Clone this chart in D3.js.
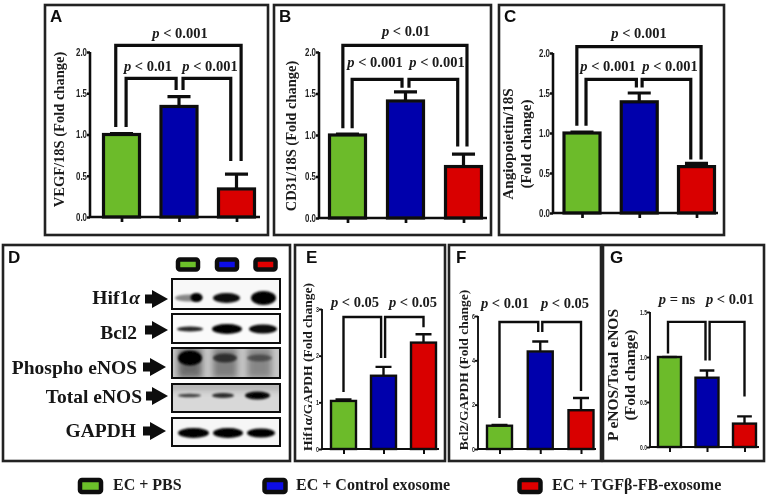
<!DOCTYPE html>
<html><head><meta charset="utf-8">
<script src="https://cdn.jsdelivr.net/npm/d3@7"></script>
<style>
html,body{margin:0;padding:0;background:#fff}
svg{display:block}
</style></head><body>
<svg id="c" width="767" height="499"></svg>
<script>
// ---- data ----
const categories = ["EC + PBS","EC + Control exosome","EC + TGFβ-FB-exosome"];
const valuesA = [1.00,1.34,0.34], errorsA = [1.01,1.46,0.52];
const valuesB = [1.00,1.41,0.62], errorsB = [1.01,1.52,0.77];
const valuesC = [1.00,1.39,0.58], errorsC = [1.01,1.50,0.62];
const valuesE = [1.03,1.57,2.28], errorsE = [1.06,1.76,2.46];
const valuesF = [1.05,4.40,1.75], errorsF = [1.08,4.85,2.30];
const valuesG = [1.00,0.77,0.26], errorsG = [1.00,0.85,0.34];
const ticksAC = ["0.0","0.5","1.0","1.5","2.0"];
const ticksE = ["0","1","2","3"];
const ticksF = ["0","2","4","6"];
const ticksG = ["0.0","0.5","1.0","1.5"];
const blotNames = ["Hif1","Bcl2","Phospho eNOS","Total eNOS","GAPDH"];
const blotIntensity = [[0.45,0.95,1],[0.85,1,0.97],[1,0.62,0.42],[0.7,0.8,0.97],[1,1,1]];
const blotWidth = [[27,27,25],[26,30,28],[24,24,25],[23,22,25],[31,30,28]];
const blotHeight = [[7,10,14],[5,10,9],[15,9,7],[3.5,5,8],[10,10,9]];
// bracket geometry in chart units: [xStartIndex, xEndIndex, topValue, leftFootValue, rightFootValue]
const bracketsA = [[-0.10,2.08,2.08,1.09,0.68],[0.08,0.95,1.68,1.09,1.54],[1.07,1.90,1.68,1.54,0.68]];
const bracketsB = [[-0.08,2.06,2.08,1.08,0.86],[0.08,0.94,1.67,1.08,1.57],[1.06,1.90,1.67,1.57,0.86]];
const bracketsC = [[-0.09,2.08,2.08,1.09,0.67],[0.07,0.95,1.67,1.09,1.57],[1.05,1.90,1.67,1.57,0.67]];
const bracketsE = [[0,0.94,2.83,1.22,1.95],[1.04,2,2.83,1.95,2.61]];
const bracketsF = [[0,0.95,5.73,1.40,5.28],[1.05,2,5.73,5.28,2.62]];
const bracketsG = [[-0.04,0.96,1.39,1.04,0.96],[1.07,2,1.39,0.96,0.56]];
const pLabelsA = ["p < 0.001","p < 0.01","p < 0.001"];
const pLabelsB = ["p < 0.01","p < 0.001","p < 0.001"];
const pLabelsC = ["p < 0.001","p < 0.001","p < 0.001"];
const pLabelsE = ["p < 0.05","p < 0.05"];
const pLabelsF = ["p < 0.01","p < 0.05"];
const pLabelsG = ["p = ns","p < 0.01"];

// ---- layout ----
const barFill = ["#6cbb2c","#0000ac","#d90000"];
const brightFill = ["#6cc02c","#1010e6","#e00000"];
const serif = "'Liberation Serif','DejaVu Serif',serif";
const sans = "'Liberation Sans',Arial,sans-serif";
const ink = "#111";

const svg = d3.select("#c");
const defs = svg.append("defs");
defs.append("filter").attr("id","soft").attr("x","-5%").attr("y","-5%").attr("width","110%").attr("height","110%")
  .append("feGaussianBlur").attr("stdDeviation",0.35);
[[1.3,"b1"],[3,"b2"]].forEach(([s,id])=>{
  defs.append("filter").attr("id",id).attr("x","-40%").attr("y","-80%").attr("width","180%").attr("height","260%")
    .append("feGaussianBlur").attr("stdDeviation",s);
});
const root = svg.append("g").attr("filter","url(#soft)");

const panels = [
 {letter:"A",box:[45,5,268,235],lx:50,ly:22,ax:90,axEnd:260,y0:217,yT:52,max:2,cx:[121.5,236.5],bw:36,ticks:ticksAC,v:valuesA,e:errorsA,br:bracketsA,
  p:pLabelsA,pp:[[180,38],[148,71],[210,71]],title:["VEGF/18S (Fold change)"],tx:[64],ty:129.5,fs:14.5,ps:14.5,lw:3.2,tf:10.5,tw:11},
 {letter:"B",box:[274,5,491,235],lx:279,ly:22,ax:319,axEnd:487,y0:218,yT:52,max:2,cx:[347.5,463.5],bw:36,ticks:ticksAC,v:valuesB,e:errorsB,br:bracketsB,
  p:pLabelsB,pp:[[406,36],[375,67],[437,67]],title:["CD31/18S (Fold change)"],tx:[296],ty:136,fs:14.5,ps:14.5,lw:3.2,tf:10.5,tw:11},
 {letter:"C",box:[499,5,724,235],lx:504,ly:22,ax:553,axEnd:718,y0:213,yT:53,max:2,cx:[582,696.5],bw:36,ticks:ticksAC,v:valuesC,e:errorsC,br:bracketsC,
  p:pLabelsC,pp:[[639,38],[608,71],[670,71]],title:["Angiopoietin/18S","(Fold change)"],tx:[513,531],ty:144,fs:15.2,ps:14.5,lw:3.2,tf:10.5,tw:11},
 {letter:"E",box:[295,245,445,461],lx:306,ly:263,ax:322,axEnd:439,y0:449,yT:309,max:3,cx:[343.5,423.5],bw:25,ticks:ticksE,v:valuesE,e:errorsE,br:bracketsE,
  p:pLabelsE,pp:[[355,307],[413,307]],title:["Hif1α/GAPDH (Fold change)"],tx:[312],ty:367,fs:13.5,ps:14.5,lw:2.4,tf:7,tw:3},
 {letter:"F",box:[449,245,601,461],lx:456,ly:263,ax:478,axEnd:596,y0:449,yT:316,max:6,cx:[499.5,581],bw:25,ticks:ticksF,v:valuesF,e:errorsF,br:bracketsF,
  p:pLabelsF,pp:[[505,308],[565,308]],title:["Bcl2/GAPDH (Fold change)"],tx:[468],ty:370,fs:13.5,ps:14.5,lw:2.4,tf:7,tw:3},
 {letter:"G",box:[603,245,764,461],lx:610,ly:263,ax:650,axEnd:759,y0:447,yT:312,max:1.5,cx:[669.5,744.5],bw:23,ticks:ticksG,v:valuesG,e:errorsG,br:bracketsG,
  p:pLabelsG,pp:[[677,304],[730,304]],title:["P eNOS/Total eNOS","(Fold change)"],tx:[618,635],ty:375,fs:15.5,ps:14.5,lw:2.4,tf:7,tw:7}
];

function frame(b){
  root.append("rect").attr("x",b[0]).attr("y",b[1]).attr("width",b[2]-b[0]).attr("height",b[3]-b[1])
    .attr("fill","#fff").attr("stroke","#222").attr("stroke-width",2.6);
}
function letter(t,x,y){
  root.append("text").attr("x",x).attr("y",y).text(t).attr("font-family",sans).attr("font-weight",700)
    .attr("font-size",17).attr("fill","#111");
}
function pText(g,t,x,y,size){
  const el = g.append("text").attr("x",x).attr("y",y).attr("text-anchor","middle")
    .attr("font-family",serif).attr("font-weight",700).attr("font-size",size).attr("fill","#1a1a1a");
  el.append("tspan").attr("font-style","italic").text(t.slice(0,1));
  el.append("tspan").text(t.slice(1));
}

panels.forEach(p=>{
  frame(p.box); letter(p.letter,p.lx,p.ly);
  const g = root.append("g");
  const y = d3.scaleLinear().domain([0,p.max]).range([p.y0,p.yT]);
  const x = d3.scaleLinear().domain([0,2]).range(p.cx);
  // bars
  g.selectAll("rect.bar").data(p.v).join("rect").attr("class","bar")
    .attr("x",(d,i)=>x(i)-p.bw/2).attr("width",p.bw)
    .attr("y",d=>y(d)).attr("height",d=>y(0)-y(d))
    .attr("fill",(d,i)=>barFill[i]).attr("stroke",ink).attr("stroke-width",p.lw);
  // error bars
  const cap = p.bw*0.32;
  g.selectAll("path.err").data(p.e).join("path").attr("class","err")
    .attr("d",(d,i)=>`M${x(i)},${y(p.v[i])}V${y(d)}M${x(i)-cap},${y(d)}H${x(i)+cap}`)
    .attr("fill","none").attr("stroke",ink).attr("stroke-width",p.lw);
  // axes
  const yAxis = d3.axisLeft(y).tickValues(p.ticks.map(Number)).tickFormat((d,i)=>p.ticks[i]).tickSize(3).tickPadding(0);
  const ya = g.append("g").attr("transform",`translate(${p.ax},0)`).call(yAxis);
  ya.selectAll("path,line").attr("stroke",ink).attr("stroke-width",p.lw*0.8);
  ya.select("path.domain").attr("d",`M0,${p.y0}V${p.yT}`);
  ya.selectAll("text").attr("font-family","'Liberation Sans Narrow','Liberation Sans',sans-serif")
    .attr("font-weight",700).attr("font-size",p.tf).attr("fill","#222")
    .attr("textLength",p.tw).attr("lengthAdjust","spacingAndGlyphs");
  const xa = d3.scaleLinear().domain([p.ax,p.axEnd]).range([p.ax,p.axEnd]);
  const xAxis = d3.axisBottom(xa).tickValues([0,1,2].map(x)).tickFormat("").tickSize(5);
  const xg = g.append("g").attr("transform",`translate(0,${p.y0})`).call(xAxis);
  xg.selectAll("path,line").attr("stroke",ink).attr("stroke-width",p.lw*0.85);
  xg.select("path.domain").attr("d",`M${p.ax},0H${p.axEnd}`);
  // brackets
  g.selectAll("path.br").data(p.br).join("path").attr("class","br")
    .attr("d",b=>`M${x(b[0])},${y(b[3])}V${y(b[2])}H${x(b[1])}V${y(b[4])}`)
    .attr("fill","none").attr("stroke",ink).attr("stroke-width",p.lw);
  // p labels
  p.p.forEach((t,i)=>pText(g,t,p.pp[i][0],p.pp[i][1],p.ps));
  // axis title
  p.title.forEach((t,i)=>{
    g.append("text").attr("transform",`translate(${p.tx[i]},${p.ty}) rotate(-90)`)
      .attr("text-anchor","middle").attr("font-family",serif).attr("font-weight",700)
      .attr("font-size",p.fs).attr("fill","#1a1a1a").text(t);
  });
});

// ---- panel D ----
frame([3,245,290,461]); letter("D",8,263);
const swatchLane = [188,227,265.5];
swatchLane.forEach((cx,i)=>{
  root.append("rect").attr("x",cx-10).attr("y",259.5).attr("width",20).attr("height",10)
    .attr("fill",brightFill[i]).attr("stroke","#0c0c0c").attr("stroke-width",4.5).attr("rx",2);
});
const lane = d3.scaleOrdinal().domain([0,1,2]).range([189,227,263]);
const rows = [
 {top:279,bot:309,base:304,ax:[145,168],ay:299,tx:140,by:298,bg:"#f8f8f8",lanes:[188.5,226.5,263.5]},
 {top:314,bot:343,base:339,ax:[145,168],ay:330,tx:137,by:329,bg:"#fafafa",lanes:[190,227,263]},
 {top:348,bot:378,base:374,ax:[143,166],ay:367,tx:137,by:358,bg:"#c8c8c8",lanes:[190,225,259.5]},
 {top:384,bot:412,base:403,ax:[146,168],ay:396,tx:142,by:395.5,bg:"#d8d8d8",lanes:[189.5,223,257.5]},
 {top:418,bot:446,base:437,ax:[143,166],ay:431,tx:136,by:433,bg:"#f6f6f6",lanes:[193.5,228,261]}
];
rows.forEach((r,k)=>{
  const clip = "blot"+k;
  defs.append("clipPath").attr("id",clip).append("rect").attr("x",172).attr("y",r.top).attr("width",108).attr("height",r.bot-r.top);
  const g = root.append("g");
  g.append("rect").attr("x",172).attr("y",r.top).attr("width",108).attr("height",r.bot-r.top).attr("fill",r.bg);
  const inner = g.append("g").attr("clip-path",`url(#${clip})`);
  if(k===2){
    inner.selectAll("rect.smear").data(blotIntensity[k]).join("rect").attr("class","smear")
      .attr("x",(d,i)=>r.lanes[i]-12).attr("y",r.top).attr("width",24).attr("height",30)
      .attr("fill","#444").attr("opacity",d=>0.35+d*0.35).attr("filter","url(#b2)");
  }
  if(k===3){
    inner.append("rect").attr("x",165).attr("y",r.top-3).attr("width",120).attr("height",10)
      .attr("fill","#888").attr("opacity",0.45).attr("filter","url(#b2)");
  }
  inner.selectAll("ellipse.band").data(blotIntensity[k]).join("ellipse").attr("class","band")
    .attr("cx",(d,i)=>r.lanes[i]).attr("cy",r.by)
    .attr("rx",(d,i)=>blotWidth[k][i]/2).attr("ry",(d,i)=>blotHeight[k][i]/2)
    .attr("fill","#050505").attr("opacity",d=>d).attr("filter","url(#b1)");
  if(k===0){
    // darker right-hand end of the first Hif1α band
    inner.append("ellipse").attr("cx",r.lanes[0]+8).attr("cy",r.by-0.5).attr("rx",6).attr("ry",4.5)
      .attr("fill","#050505").attr("filter","url(#b1)");
  }
  g.append("rect").attr("x",172).attr("y",r.top).attr("width",108).attr("height",r.bot-r.top)
    .attr("fill","none").attr("stroke","#111").attr("stroke-width",2);
  // arrow
  const [a,b] = r.ax, m = b-16;
  g.append("path").attr("d",`M${a},${r.ay-4.5}H${m}V${r.ay-9}L${b},${r.ay}L${m},${r.ay+9}V${r.ay+4.5}H${a}Z`).attr("fill","#0b0b0b");
  const label = g.append("text").attr("x",r.tx).attr("y",r.base).attr("text-anchor","end")
    .attr("font-family",serif).attr("font-weight",700).attr("font-size",19.5).attr("fill","#141414").text(blotNames[k]);
  if(k===0) label.append("tspan").attr("font-style","italic").text("α");
});

// ---- legend ----
const legendX = [80,264.5,519.5], legendTextX = [113,296,552];
categories.forEach((c,i)=>{
  root.append("rect").attr("x",legendX[i]).attr("y",480).attr("width",21).attr("height",12)
    .attr("fill",brightFill[i]).attr("stroke","#0c0c0c").attr("stroke-width",4.5).attr("rx",2);
  root.append("text").attr("x",legendTextX[i]).attr("y",490).attr("font-family",serif).attr("font-weight",700)
    .attr("font-size",16).attr("fill","#1a1a1a").text(c);
});
</script></body></html>
